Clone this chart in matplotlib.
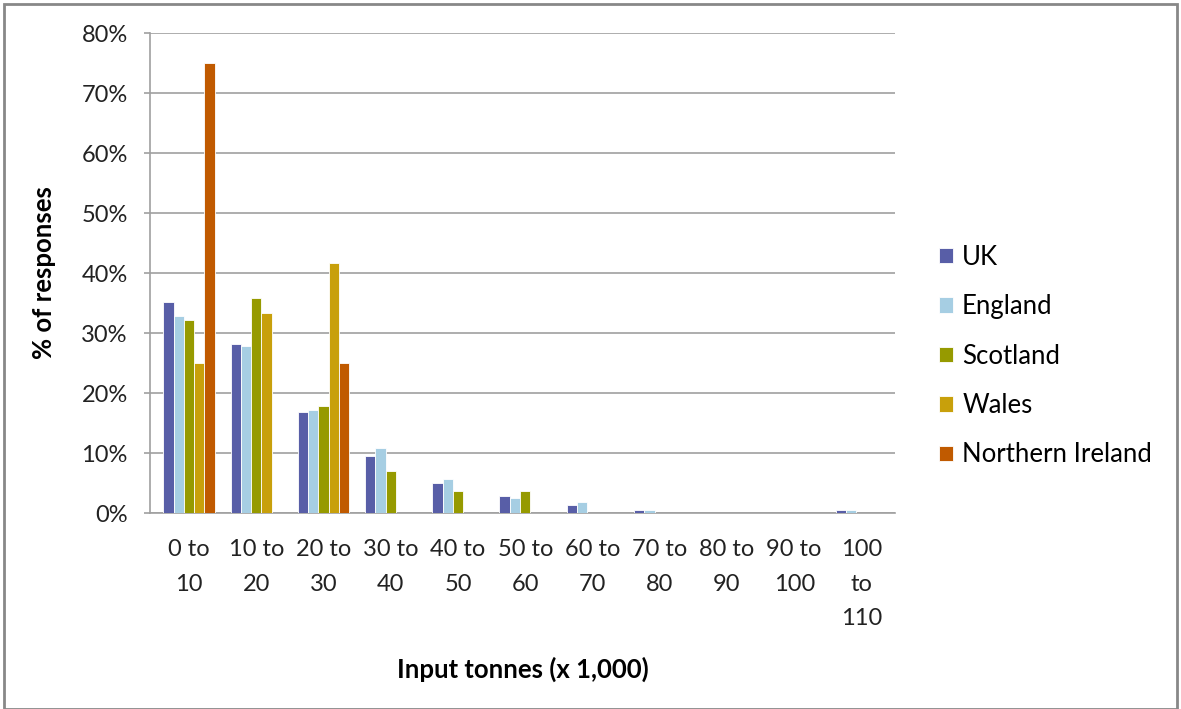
import matplotlib.pyplot as plt
import matplotlib.patches as patches
import numpy as np

plt.rcParams['font.family'] = ['Lato', 'DejaVu Sans']

# Share of responses (%) by input tonnage band
bands = ["0 to\n10", "10 to\n20", "20 to\n30", "30 to\n40", "40 to\n50", "50 to\n60",
         "60 to\n70", "70 to\n80", "80 to\n90", "90 to\n100", "100\nto\n110"]
uk = [35.1, 28.1, 16.9, 9.5, 5.0, 2.9, 1.4, 0.5, 0, 0, 0.5]
england = [32.8, 27.9, 17.1, 10.8, 5.6, 2.5, 1.9, 0.5, 0, 0, 0.5]
scotland = [32.2, 35.8, 17.8, 7.0, 3.7, 3.7, 0, 0, 0, 0, 0]
wales = [25.0, 33.3, 41.6, 0, 0, 0, 0, 0, 0, 0, 0]
n_ireland = [75.0, 0, 25.0, 0, 0, 0, 0, 0, 0, 0, 0]

series = [("UK", uk, "#585EA7"),
          ("England", england, "#A6CEE3"),
          ("Scotland", scotland, "#969A00"),
          ("Wales", wales, "#C8A00B"),
          ("Northern Ireland", n_ireland, "#C05A00")]

fig = plt.figure(figsize=(11.81, 7.09), dpi=100)
ax = fig.add_axes([150 / 1181, 1 - 513 / 709, 745 / 1181, 480 / 709])

x = np.arange(len(bands))
w = 0.153
for i, (name, vals, col) in enumerate(series):
    ax.bar(x + (i - 2) * w, vals, w, color=col, edgecolor="white", linewidth=0.6,
           label=name, zorder=3)

ax.set_xlim(-0.58, 10.5)
ax.set_ylim(0, 80)
ax.set_yticks(np.arange(0, 81, 10))
ax.set_yticklabels([f"{v}%" for v in range(0, 81, 10)], fontsize=17, color="#222222")
ax.set_xticks(x)
ax.set_xticklabels(bands, fontsize=17, color="#222222", linespacing=1.78, va="top")
ax.tick_params(axis="x", length=0, pad=19)
ax.tick_params(axis="y", length=4, color="#A0A0A0", width=1.2, pad=12)

ax.grid(axis="y", color="#A0A0A0", linewidth=1.2, zorder=0)
for s in ["top", "right"]:
    ax.spines[s].set_visible(False)
for s in ["left", "bottom"]:
    ax.spines[s].set_color("#A0A0A0")
    ax.spines[s].set_linewidth(1.2)

ax.set_ylabel("% of responses", fontsize=18.5, fontweight="bold", labelpad=18)
ax.set_xlabel("Input tonnes (x 1,000)", fontsize=18.5, fontweight="bold", labelpad=20)

ax.legend(loc="center left", bbox_to_anchor=(1.028, 0.327), frameon=False, fontsize=18.5,
          handlelength=0.55, handleheight=0.55, handletextpad=0.35, labelspacing=0.95)

fig.patches.append(patches.Rectangle((0.003, 0.0), 0.994, 0.994, transform=fig.transFigure,
                                     fill=False, edgecolor="#888888", linewidth=2))

fig.savefig("out.png", dpi=100)
